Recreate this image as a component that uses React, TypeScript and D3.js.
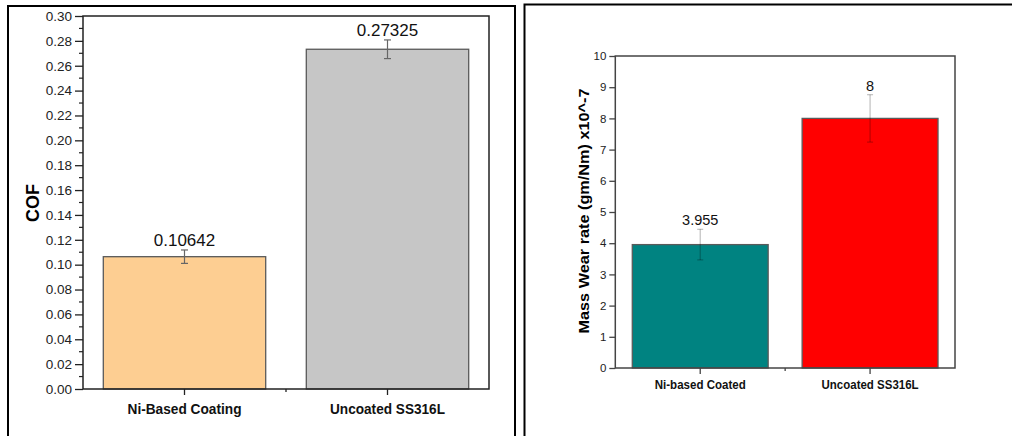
import { useEffect, useRef } from "react";
import * as d3 from "d3";

const cofCategories = ["Ni-Based Coating", "Uncoated SS316L"];
const cofValues = [0.10642, 0.27325];
const cofErrors = [0.0054, 0.0075];
const cofValueLabels = ["0.10642", "0.27325"];
const cofColors = ["#FDCE92", "#C6C6C6"];

const wearCategories = ["Ni-based Coated", "Uncoated SS316L"];
const wearValues = [3.955, 8];
const wearErrors = [0.49, 0.76];
const wearValueLabels = ["3.955", "8"];
const wearColors = ["#008381", "#FF0000"];

const FONT = "'Liberation Sans', Arial, sans-serif";

interface PanelSpec {
  categories: string[];
  values: number[];
  errors: number[];
  valueLabels: string[];
  colors: string[];
  left: number;
  right: number;
  top: number;
  bottom: number;
  yMax: number;
  tickCount: number;
  minorCount: number;
  tickFormat: (v: number) => string;
  tickFont: number;
  tickLen: number;
  valueFont: number;
  catFont: number;
  catLengths: number[];
  catBaseline: number;
  errColor: string;
  errOpacity: number;
  capHalf: number;
  frameColor: string;
  title: string;
  titleX: number;
  titleY: number;
  titleFont: number;
  titleLength?: number;
}

function drawPanel(svg: d3.Selection<SVGSVGElement, unknown, null, undefined>, p: PanelSpec) {
  const g = svg.append("g");

  const x = d3
    .scaleBand<string>()
    .domain(p.categories)
    .range([p.left, p.right])
    .paddingInner(0.2)
    .paddingOuter(0.1);

  const y = d3.scaleLinear().domain([0, p.yMax]).range([p.bottom, p.top]);

  const data = p.categories.map((c, i) => ({
    c,
    v: p.values[i],
    e: p.errors[i],
    label: p.valueLabels[i],
    color: p.colors[i],
  }));

  // bars
  g.append("g")
    .selectAll("rect")
    .data(data)
    .join("rect")
    .attr("x", (d) => x(d.c)!)
    .attr("y", (d) => y(d.v))
    .attr("width", x.bandwidth())
    .attr("height", (d) => y(0) - y(d.v))
    .attr("fill", (d) => d.color)
    .attr("stroke", "#5a5a5a")
    .attr("stroke-width", 1.3);

  // error bars
  const eb = g
    .append("g")
    .attr("stroke", p.errColor)
    .attr("stroke-opacity", p.errOpacity)
    .attr("stroke-width", 1.2)
    .selectAll("g")
    .data(data)
    .join("g")
    .attr("transform", (d) => `translate(${x(d.c)! + x.bandwidth() / 2},0)`);
  eb.append("line")
    .attr("y1", (d) => y(d.v + d.e))
    .attr("y2", (d) => y(d.v - d.e));
  eb.append("line")
    .attr("x1", -p.capHalf)
    .attr("x2", p.capHalf)
    .attr("y1", (d) => y(d.v + d.e))
    .attr("y2", (d) => y(d.v + d.e));
  eb.append("line")
    .attr("x1", -p.capHalf)
    .attr("x2", p.capHalf)
    .attr("y1", (d) => y(d.v - d.e))
    .attr("y2", (d) => y(d.v - d.e));

  // value labels
  g.append("g")
    .selectAll("text")
    .data(data)
    .join("text")
    .attr("x", (d) => x(d.c)! + x.bandwidth() / 2)
    .attr("y", (d) => y(d.v + d.e) - 4)
    .attr("text-anchor", "middle")
    .attr("font-family", FONT)
    .attr("font-size", p.valueFont)
    .attr("fill", "#111")
    .text((d) => d.label);

  // frame
  g.append("rect")
    .attr("x", p.left)
    .attr("y", p.top)
    .attr("width", p.right - p.left)
    .attr("height", p.bottom - p.top)
    .attr("fill", "none")
    .attr("stroke", p.frameColor)
    .attr("stroke-width", 1.5);

  // y axis
  const yAxis = g
    .append("g")
    .attr("transform", `translate(${p.left},0)`)
    .call(
      d3
        .axisLeft(y)
        .ticks(p.tickCount)
        .tickFormat((v) => p.tickFormat(v as number))
        .tickSize(p.tickLen)
        .tickPadding(3)
    );
  yAxis.select(".domain").remove();
  yAxis.selectAll("line").attr("stroke", p.frameColor).attr("stroke-width", 1.3);
  yAxis
    .selectAll("text")
    .attr("font-family", FONT)
    .attr("font-size", p.tickFont)
    .attr("fill", "#222");

  if (p.minorCount > 0) {
    const major = new Set(y.ticks(p.tickCount).map((v) => v.toFixed(6)));
    g.append("g")
      .selectAll("line")
      .data(y.ticks(p.minorCount).filter((v) => !major.has(v.toFixed(6))))
      .join("line")
      .attr("x1", p.left - 4)
      .attr("x2", p.left)
      .attr("y1", (d) => y(d))
      .attr("y2", (d) => y(d))
      .attr("stroke", p.frameColor)
      .attr("stroke-width", 1.2);
  }

  // x ticks: category centres long, separators short
  const centres = p.categories.map((c) => x(c)! + x.bandwidth() / 2);
  const seps = p.categories
    .slice(1)
    .map((c, i) => (x(p.categories[i])! + x.bandwidth() + x(c)!) / 2);
  g.append("g")
    .selectAll("line")
    .data(centres.map((v) => ({ v, len: 6 })).concat(seps.map((v) => ({ v, len: 3 }))))
    .join("line")
    .attr("x1", (d) => d.v)
    .attr("x2", (d) => d.v)
    .attr("y1", p.bottom)
    .attr("y2", (d) => p.bottom + d.len)
    .attr("stroke", p.frameColor)
    .attr("stroke-width", 1.3);

  g.append("g")
    .selectAll("text")
    .data(p.categories)
    .join("text")
    .attr("x", (d) => x(d)! + x.bandwidth() / 2)
    .attr("y", p.catBaseline)
    .attr("text-anchor", "middle")
    .attr("font-family", FONT)
    .attr("font-weight", "bold")
    .attr("font-size", p.catFont)
    .attr("fill", "#111")
    .attr("textLength", (_d, i) => p.catLengths[i])
    .attr("lengthAdjust", "spacingAndGlyphs")
    .text((d) => d);

  const t = g
    .append("text")
    .attr("transform", `translate(${p.titleX},${p.titleY}) rotate(-90)`)
    .attr("text-anchor", "middle")
    .attr("dy", "0.35em")
    .attr("font-family", FONT)
    .attr("font-weight", "bold")
    .attr("font-size", p.titleFont)
    .attr("fill", "#000")
    .text(p.title);
  if (p.titleLength) {
    t.attr("textLength", p.titleLength).attr("lengthAdjust", "spacingAndGlyphs");
  }
}

const App = () => {
  const ref = useRef<SVGSVGElement | null>(null);

  useEffect(() => {
    const svg = d3.select(ref.current!);
    svg.selectAll("*").remove();

    // panel borders
    const borders = svg.append("g").attr("stroke", "#000").attr("stroke-width", 2).attr("fill", "none");
    borders.append("path").attr("d", "M8,436 V6 H515 V436");
    borders.append("path").attr("d", "M524.5,436 V4.5 H1012");

    drawPanel(svg, {
      categories: cofCategories,
      values: cofValues,
      errors: cofErrors,
      valueLabels: cofValueLabels,
      colors: cofColors,
      left: 83,
      right: 489,
      top: 16,
      bottom: 389,
      yMax: 0.3,
      tickCount: 15,
      minorCount: 30,
      tickFormat: d3.format(".2f"),
      tickFont: 13.5,
      tickLen: 8,
      valueFont: 17,
      catFont: 15,
      catLengths: [114, 115],
      catBaseline: 414,
      errColor: "#666",
      errOpacity: 1,
      capHalf: 3.5,
      frameColor: "#222",
      title: "COF",
      titleX: 33,
      titleY: 203,
      titleFont: 18,
    });

    drawPanel(svg, {
      categories: wearCategories,
      values: wearValues,
      errors: wearErrors,
      valueLabels: wearValueLabels,
      colors: wearColors,
      left: 615.3,
      right: 955,
      top: 56,
      bottom: 368,
      yMax: 10,
      tickCount: 10,
      minorCount: 0,
      tickFormat: d3.format("d"),
      tickFont: 11.5,
      tickLen: 6,
      valueFont: 14.5,
      catFont: 13,
      catLengths: [91, 97],
      catBaseline: 389,
      errColor: "#000",
      errOpacity: 0.25,
      capHalf: 3,
      frameColor: "#444",
      title: "Mass Wear rate (gm/Nm) x10^-7",
      titleX: 584,
      titleY: 211,
      titleFont: 14.5,
      titleLength: 245,
    });
  }, []);

  return (
    <svg
      ref={ref}
      width={1012}
      height={436}
      style={{ position: "absolute", left: 0, top: 0, background: "#fff" }}
    />
  );
};

export default App;
